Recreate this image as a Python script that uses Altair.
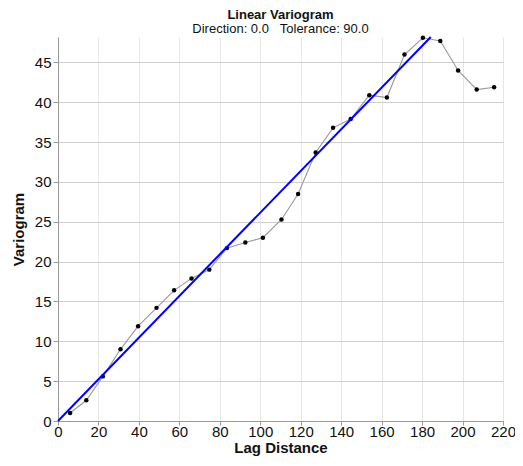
import altair as alt
import pandas as pd

lag = [6, 14, 22.2, 30.9, 39.6, 48.7, 57.4, 66, 74.8, 83.5, 92.6, 101.3, 110.5,
       118.7, 127.4, 136, 144.7, 153.9, 162.6, 171.3, 180.4, 189, 197.8, 207, 215.6]
gamma = [1.0, 2.6, 5.6, 9.0, 11.9, 14.2, 16.4, 17.9, 19.0, 21.7, 22.4, 23.0, 25.3,
         28.5, 33.7, 36.8, 37.9, 40.9, 40.6, 46.0, 48.1, 47.7, 44.0, 41.6, 41.9]
model_x = [0, 184.3]
model_y = [0, 48.2]

df = pd.DataFrame({"lag": lag, "gamma": gamma})
mdf = pd.DataFrame({"lag": model_x, "gamma": model_y})

xscale = alt.Scale(domain=[0, 220], nice=False)
yscale = alt.Scale(domain=[0, 48.2], nice=False)

xaxis = alt.Axis(title="Lag Distance", values=list(range(0, 221, 20)), gridColor="#e6e6e6",
                 labelFontSize=15, titleFontSize=15, titleFontWeight="bold", labelColor="#111",
                 titleColor="#111", domainColor="#999", tickColor="#999", titlePadding=1,
                 labelPadding=-1, tickSize=4, labelFlush=False)
yaxis = alt.Axis(title="Variogram", values=list(range(0, 46, 5)), gridColor="#cfcfcf",
                 labelFontSize=15, titleFontSize=15, titleFontWeight="bold", labelColor="#111",
                 titleColor="#111", domainColor="#999", tickColor="#999", titlePadding=8,
                 tickSize=5, labelFlush=False)

line = alt.Chart(df).mark_line(color="#999999", strokeWidth=1.1).encode(
    x=alt.X("lag:Q", scale=xscale, axis=xaxis),
    y=alt.Y("gamma:Q", scale=yscale, axis=yaxis),
)
pts = alt.Chart(df).mark_circle(color="black", size=20, opacity=1).encode(
    x=alt.X("lag:Q", scale=xscale), y=alt.Y("gamma:Q", scale=yscale))
model = alt.Chart(mdf).mark_line(color="#0000ff", strokeWidth=2).encode(
    x=alt.X("lag:Q", scale=xscale), y=alt.Y("gamma:Q", scale=yscale))

chart = alt.layer(line, pts, model).properties(
    width=445, height=384,
    title=alt.TitleParams(text="Linear Variogram",
                          subtitle="Direction: 0.0\u00a0\u00a0\u00a0Tolerance: 90.0",
                          fontSize=13, subtitleFontSize=13, font="Liberation Sans",
                          subtitleFont="Liberation Sans", color="#111", subtitleColor="#111",
                          anchor="middle", offset=-3, subtitlePadding=1),
    autosize=alt.AutoSizeParams(type="none"),
    padding={"left": 50, "top": 29, "right": 12, "bottom": 36},
).configure(font="Liberation Sans").configure_view(stroke=None).configure_axis(
    labelFont="Liberation Sans", titleFont="Liberation Sans")

chart.save("out.html", embed_options={"renderer": "svg", "actions": False})
